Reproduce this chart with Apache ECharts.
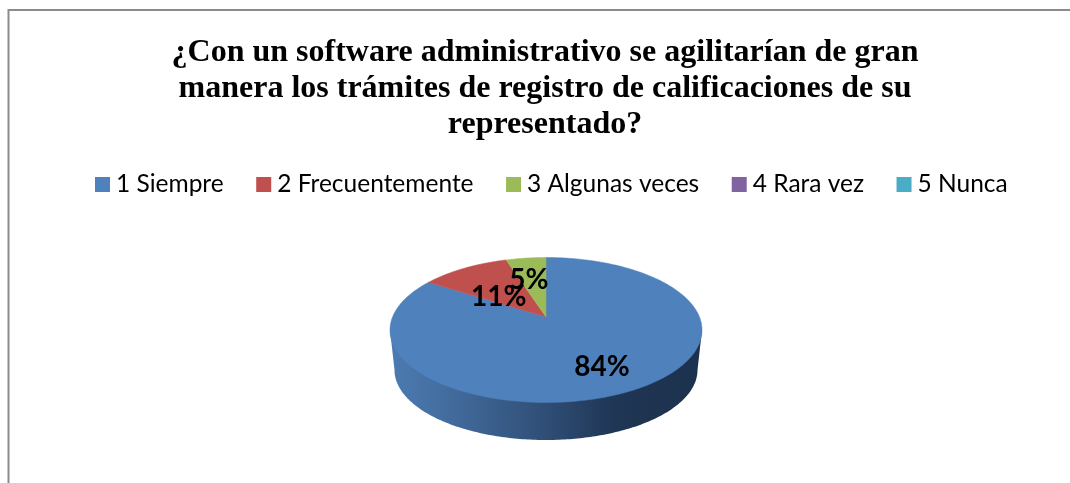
<!DOCTYPE html>
<html>
<head>
<meta charset="utf-8">
<style>html,body{margin:0;padding:0;background:#fff}#c{width:1070px;height:483px}</style>
<script src="https://cdn.jsdelivr.net/npm/echarts@6/dist/echarts.min.js"></script>
</head>
<body>
<div id="c"></div>
<script>
const titleLines = ['¿Con un software administrativo se agilitarían de gran','manera los trámites de registro de calificaciones de su','representado?'];
const categories = ['1 Siempre','2 Frecuentemente','3 Algunas veces','4 Rara vez','5 Nunca'];
const percentages = [84, 11, 5, 0, 0];
const colors = ['#4f81bd','#c0504d','#9bbb59','#8064a2','#4bacc6'];

// layout of the tilted disc (pixels)
const disc = {cx:546, cy:330, rx:156, ry:72.5, apexY:317, k:0.465, baseCy:370, baseRx:151.5, baseRy:70};
const labelPlace = [{r:116,dy:3},{r:77,dy:8},{r:110,dy:13}];
const total = percentages.reduce((a,b)=>a+b,0);

function rim(theta){ // clockwise angle from the top, ray from the apex to the ellipse
  const dx=Math.sin(theta), dy=-Math.cos(theta)*disc.k, oy=disc.apexY-disc.cy;
  const a=dx*dx/(disc.rx*disc.rx)+dy*dy/(disc.ry*disc.ry);
  const b=2*oy*dy/(disc.ry*disc.ry);
  const c=oy*oy/(disc.ry*disc.ry)-1;
  const s=(-b+Math.sqrt(b*b-4*a*c))/(2*a);
  return [disc.cx+dx*s, disc.apexY+dy*s];
}
function renderSlice(idx){
  return function(params, api){
    const v=api.value(0);
    if(!v) return {type:'group',children:[]};
    let before=0; for(let i=0;i<idx;i++) before+=percentages[i];
    const a0=before/total*2*Math.PI, a1=(before+v)/total*2*Math.PI;
    const pts=[[disc.cx,disc.apexY]];
    const n=Math.max(4,Math.ceil((a1-a0)/(Math.PI/180)));
    for(let i=0;i<=n;i++) pts.push(rim(a0+(a1-a0)*i/n));
    const children=[];
    if(idx===0){
      const wall=[[disc.cx-disc.rx,disc.cy]];
      for(let i=0;i<=180;i++){
        const t=Math.PI-i/180*Math.PI;
        wall.push([disc.cx+disc.baseRx*Math.cos(t), disc.baseCy+disc.baseRy*Math.sin(t)]);
      }
      wall.push([disc.cx+disc.rx,disc.cy]);
      children.push({type:'polygon',shape:{points:wall},z2:1,style:{fill:new echarts.graphic.LinearGradient(0,0,1,0,[
        {offset:0,color:'#4c7bb2'},{offset:0.2,color:'#426b9c'},{offset:0.5,color:'#2f4e76'},{offset:0.72,color:'#1f3654'},{offset:1,color:'#1c314d'}])}});
    }
    const col=colors[idx];
    children.push({type:'polygon',shape:{points:pts},z2:2,style:{fill:col,stroke:col,lineWidth:0.5}});
    const mid=(a0+a1)/2, p=labelPlace[idx];
    children.push({type:'text',z2:5,x:disc.cx+Math.sin(mid)*p.r,y:disc.apexY-Math.cos(mid)*disc.k*p.r+p.dy,
      style:{text:v+'%',fill:'#000',font:'bold 28px Lato',align:'center',verticalAlign:'middle'}});
    return {type:'group',children};
  };
}
const chart=echarts.init(document.getElementById('c'),null,{renderer:'canvas'});
chart.setOption({
  animation:false,
  backgroundColor:'#fff',
  title:{text:titleLines.join('\n'),left:540,top:30,textAlign:'center',
    textStyle:{fontFamily:'Liberation Serif',fontWeight:'bold',fontSize:32,lineHeight:36,color:'#000'}},
  legend:{data:categories,left:90,top:167,itemWidth:15,itemHeight:15,itemGap:32.5,icon:'rect',
    textStyle:{fontFamily:'Lato',fontSize:24.5,color:'#000',padding:[0,0,0,1]}},
  graphic:[{type:'polyline',silent:true,shape:{points:[[8.5,483],[8.5,10],[1070,10]]},style:{fill:null,stroke:'#8c8c8c',lineWidth:2}}],
  series:categories.map((name,i)=>({
    name,type:'custom',coordinateSystem:'none',itemStyle:{color:colors[i]},
    renderItem:renderSlice(i),data:[[percentages[i]]]
  }))
});
</script>
</body>
</html>
